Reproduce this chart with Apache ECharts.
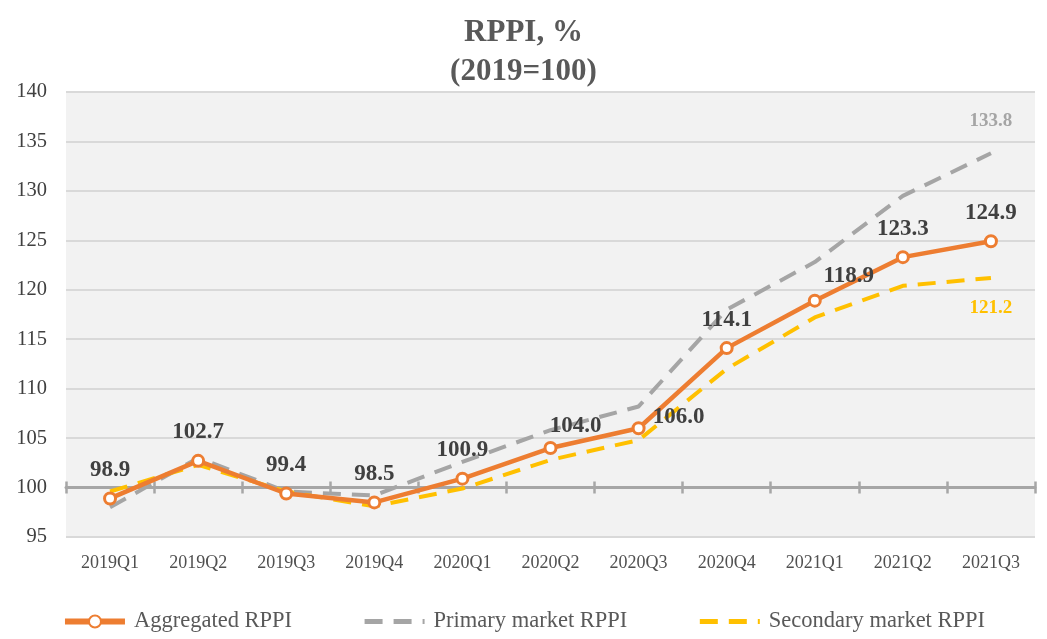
<!DOCTYPE html>
<html>
<head>
<meta charset="utf-8">
<script src="https://cdn.jsdelivr.net/npm/echarts@6/dist/echarts.min.js"></script>
<style>
html,body{margin:0;padding:0;background:#fff;}
#chart{width:1047px;height:639px;}
</style>
</head>
<body>
<div id="chart"></div>
<script>
const categories = ['2019Q1','2019Q2','2019Q3','2019Q4','2020Q1','2020Q2','2020Q3','2020Q4','2021Q1','2021Q2','2021Q3'];
const aggregated = [98.9, 102.7, 99.4, 98.5, 100.9, 104.0, 106.0, 114.1, 118.9, 123.3, 124.9];
const primary = [98.0, 103.0, 99.6, 99.2, 102.6, 105.8, 108.2, 118.0, 122.8, 129.5, 133.8];
const secondary = [99.6, 102.3, 99.6, 98.1, 99.9, 102.8, 104.8, 112.0, 117.2, 120.4, 121.2];
const seriesNames = ['Aggregated RPPI', 'Primary market RPPI', 'Secondary market RPPI'];
const yMin = 95, yMax = 140, yStep = 5, baseLine = 100;

const FONT = '"Liberation Serif", "DejaVu Serif", serif';
const gridTop = 92, gridBottom = 102, chartH = 639;
const gridH = chartH - gridTop - gridBottom;
const baseOffset = -gridH * (baseLine - yMin) / (yMax - yMin);

// label nudges for the aggregated series (index -> [dx, dy])
const labelNudge = {5: [25, 7], 6: [40, 17], 8: [34, 4]};

const aggData = aggregated.map((v, i) => {
  const o = {value: v};
  if (labelNudge[i]) o.label = {offset: labelNudge[i]};
  return o;
});
const lastIdx = categories.length - 1;
const primData = primary.map((v, i) => i === lastIdx ? {value: v, label: {show: true}} : v);
const secData = secondary.map((v, i) => i === lastIdx ? {value: v, label: {show: true}} : v);

const chart = echarts.init(document.getElementById('chart'), null, {renderer: 'canvas'});
chart.setOption({
  animation: false,
  backgroundColor: '#ffffff',
  title: {
    text: 'RPPI, %\n(2019=100)',
    left: 'center',
    top: 8,
    textStyle: {fontFamily: FONT, fontSize: 31, fontWeight: 'bold', color: '#595959', lineHeight: 39}
  },
  grid: {
    left: 66, right: 12, top: gridTop, bottom: gridBottom,
    show: true, backgroundColor: '#f2f2f2', borderWidth: 0
  },
  legend: {
    bottom: 1,
    left: 'center',
    itemWidth: 60,
    itemHeight: 15,
    itemGap: 70,
    data: [
      {name: seriesNames[0], lineStyle: {width: 6}},
      {name: seriesNames[1], lineStyle: {width: 5}},
      {name: seriesNames[2], lineStyle: {width: 5}}
    ],
    textStyle: {fontFamily: FONT, fontSize: 22.5, color: '#595959', padding: [0, 0, 0, 4]}
  },
  xAxis: [
    {
      type: 'category', data: categories, boundaryGap: true,
      axisLine: {show: false}, axisTick: {show: false},
      axisLabel: {fontFamily: FONT, fontSize: 18, color: '#505050', margin: 17}
    },
    {
      type: 'category', data: categories, boundaryGap: true, position: 'bottom',
      offset: baseOffset,
      axisLine: {show: true, lineStyle: {color: '#a6a6a6', width: 3}},
      axisTick: {show: true, inside: false, length: 6, lineStyle: {color: '#a6a6a6', width: 2.5}},
      axisLabel: {show: false}
    },
    {
      type: 'category', data: categories, boundaryGap: true, position: 'bottom',
      offset: baseOffset,
      axisLine: {show: false},
      axisTick: {show: true, inside: true, length: 6, lineStyle: {color: '#a6a6a6', width: 2.5}},
      axisLabel: {show: false}
    }
  ],
  yAxis: {
    type: 'value', min: yMin, max: yMax, interval: yStep,
    axisLine: {show: false}, axisTick: {show: false},
    axisLabel: {fontFamily: FONT, fontSize: 20.5, color: '#404040', margin: 19},
    splitLine: {show: true, lineStyle: {color: '#d9d9d9', width: 2}}
  },
  series: [
    {
      name: seriesNames[1], type: 'line', data: primData, z: 2,
      symbol: 'circle', symbolSize: 2, showSymbol: true,
      lineStyle: {color: '#a5a5a5', width: 4, type: [18, 11], cap: 'butt'},
      itemStyle: {color: 'rgba(0,0,0,0)', borderWidth: 0},
      label: {show: false, position: 'top', distance: 22, fontFamily: FONT, fontSize: 19, fontWeight: 'bold', color: '#a5a5a5'}
    },
    {
      name: seriesNames[2], type: 'line', data: secData, z: 3,
      symbol: 'circle', symbolSize: 2, showSymbol: true,
      lineStyle: {color: '#ffc000', width: 4, type: [18, 11], cap: 'butt'},
      itemStyle: {color: 'rgba(0,0,0,0)', borderWidth: 0},
      label: {show: false, position: 'bottom', distance: 20, fontFamily: FONT, fontSize: 19, fontWeight: 'bold', color: '#ffc000'}
    },
    {
      name: seriesNames[0], type: 'line', data: aggData, z: 4,
      symbol: 'circle', symbolSize: 11,
      lineStyle: {color: '#ed7d31', width: 4.5},
      itemStyle: {color: '#ffffff', borderColor: '#ed7d31', borderWidth: 3},
      label: {show: true, position: 'top', distance: 10, fontFamily: FONT, fontSize: 23, fontWeight: 'bold', color: '#404040',
              formatter: p => p.value.toFixed(1)}
    }
  ]
});
</script>
</body>
</html>
